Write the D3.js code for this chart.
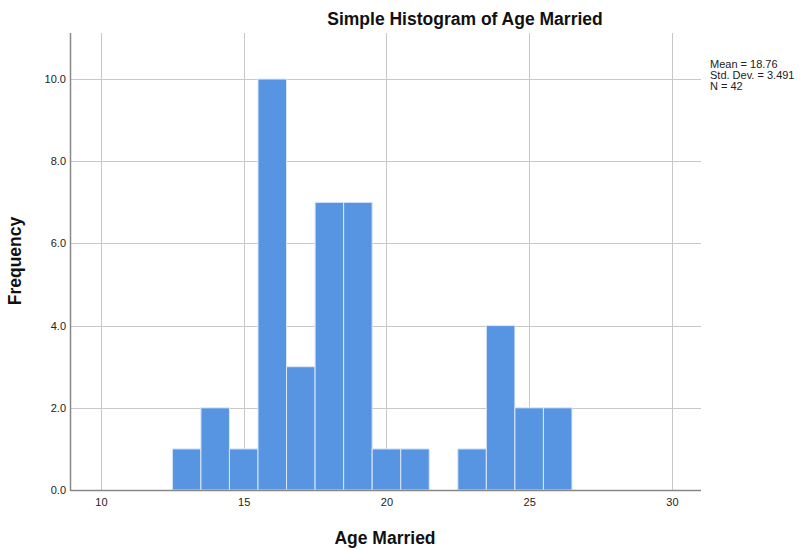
<!DOCTYPE html>
<html>
<head>
<meta charset="utf-8">
<script src="https://cdn.jsdelivr.net/npm/d3@7"></script>
<style>
  body { margin: 0; background: #fff; }
  svg { display: block; font-family: "Liberation Sans", Arial, sans-serif; }
</style>
</head>
<body>
<svg id="chart" width="801" height="550"></svg>
<script>
const binStarts = [12.5, 13.5, 14.5, 15.5, 16.5, 17.5, 18.5, 19.5, 20.5, 21.5, 22.5, 23.5, 24.5, 25.5];
const frequencies = [1, 2, 1, 10, 3, 7, 7, 1, 1, 0, 1, 4, 2, 2];
const binWidth = 1;
const xTicks = [10, 15, 20, 25, 30];
const yTicks = [0, 2, 4, 6, 8, 10];
const statsLines = ["Mean = 18.76", "Std. Dev. = 3.491", "N = 42"];
const titleText = "Simple Histogram of Age Married";
const xTitle = "Age Married";
const yTitle = "Frequency";

const svg = d3.select("#chart");
const mLeft = 70, mRight = 701, mTop = 33, mBottom = 490;

const x = d3.scaleLinear().domain([8.914, 31.02]).range([mLeft, mRight]);
const y = d3.scaleLinear().domain([0, 11.12]).range([mBottom, mTop]);

// gridlines
svg.append("g").selectAll("line").data(yTicks.filter(d => d > 0)).join("line")
  .attr("x1", mLeft).attr("x2", mRight)
  .attr("y1", d => Math.round(y(d)) + 0.5).attr("y2", d => Math.round(y(d)) + 0.5)
  .attr("stroke", "#c8c8c8").attr("stroke-width", 1);
svg.append("g").selectAll("line").data(xTicks).join("line")
  .attr("x1", d => Math.round(x(d)) + 0.5).attr("x2", d => Math.round(x(d)) + 0.5)
  .attr("y1", mTop).attr("y2", mBottom)
  .attr("stroke", "#c8c8c8").attr("stroke-width", 1);

// bars
svg.append("g").selectAll("rect").data(binStarts.map((s, i) => ({s, f: frequencies[i]})).filter(d => d.f > 0)).join("rect")
  .attr("x", d => x(d.s))
  .attr("width", d => x(d.s + binWidth) - x(d.s))
  .attr("y", d => y(d.f))
  .attr("height", d => y(0) - y(d.f))
  .attr("fill", "#5795e3")
  .attr("stroke", "#dbe8f8")
  .attr("stroke-width", 1);

// axes
const xAxis = d3.axisBottom(x).tickValues(xTicks).tickSize(0).tickPadding(8).tickFormat(d3.format("d"));
const gx = svg.append("g").attr("transform", `translate(0,${mBottom})`).call(xAxis);
gx.select(".domain").remove();
gx.selectAll("text").attr("font-size", 11).attr("fill", "#222").attr("font-family", "Liberation Sans, Arial, sans-serif");

const yAxis = d3.axisLeft(y).tickValues(yTicks).tickSize(0).tickPadding(4).tickFormat(d3.format(".1f"));
const gy = svg.append("g").attr("transform", `translate(${mLeft},0)`).call(yAxis);
gy.select(".domain").remove();
gy.selectAll("text").attr("font-size", 11).attr("fill", "#222").attr("font-family", "Liberation Sans, Arial, sans-serif");

svg.append("line").attr("x1", mLeft + 0.5).attr("x2", mLeft + 0.5).attr("y1", mTop).attr("y2", mBottom + 1)
  .attr("stroke", "#888").attr("stroke-width", 1.5);
svg.append("line").attr("x1", mLeft).attr("x2", mRight).attr("y1", mBottom + 0.5).attr("y2", mBottom + 0.5)
  .attr("stroke", "#888").attr("stroke-width", 1.5);

// titles
svg.append("text").attr("x", 465).attr("y", 25).attr("text-anchor", "middle")
  .attr("font-size", 17.5).attr("font-weight", "bold").attr("fill", "#111").text(titleText);
svg.append("text").attr("x", 385).attr("y", 544).attr("text-anchor", "middle")
  .attr("font-size", 17.5).attr("font-weight", "bold").attr("fill", "#111").text(xTitle);
svg.append("text").attr("transform", "translate(21,261) rotate(-90)").attr("text-anchor", "middle")
  .attr("font-size", 17.5).attr("font-weight", "bold").attr("fill", "#111").text(yTitle);

// stats
svg.append("g").selectAll("text").data(statsLines).join("text")
  .attr("x", 710).attr("y", (d, i) => 68 + i * 11)
  .attr("font-size", 11).attr("fill", "#222").text(d => d);
</script>
</body>
</html>
